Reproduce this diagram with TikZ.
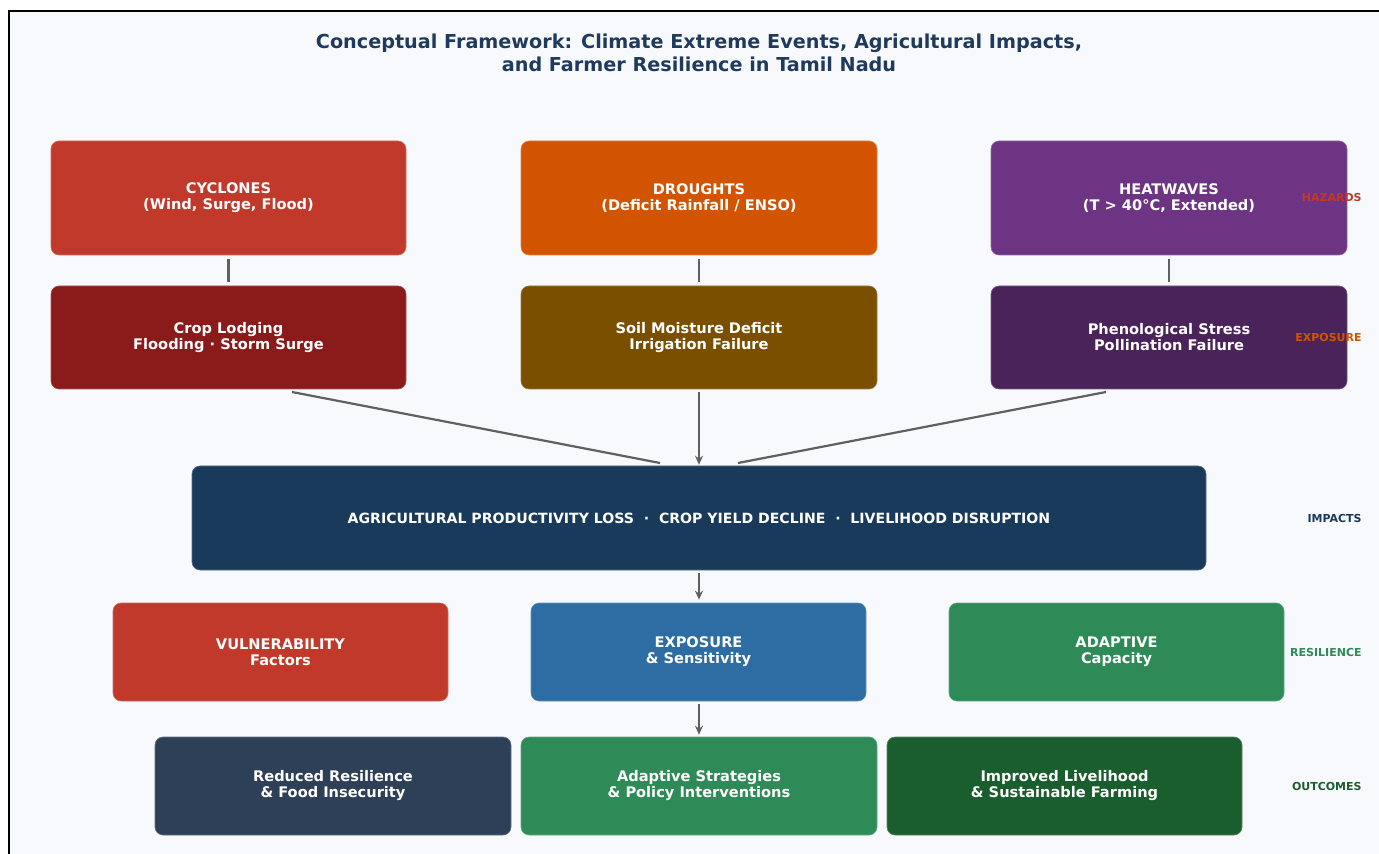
\documentclass[tikz,border=0pt]{standalone}
\usepackage{fontspec}
\setmainfont{DejaVu Sans}
\usetikzlibrary{arrows.meta}
\definecolor{bgc}{HTML}{F7F9FD}
\definecolor{cCyc}{HTML}{C0392B}
\definecolor{cDro}{HTML}{D35400}
\definecolor{cHeat}{HTML}{6C3483}
\definecolor{cCycB}{HTML}{8B1A1A}
\definecolor{cDroB}{HTML}{7B4F00}
\definecolor{cHeatB}{HTML}{4A235A}
\definecolor{cImp}{HTML}{1A3A5C}
\definecolor{cExp}{HTML}{2E6DA4}
\definecolor{cAda}{HTML}{2E8B57}
\definecolor{cRed}{HTML}{2E4057}
\definecolor{cImpr}{HTML}{1B5E2E}
\definecolor{cLine}{HTML}{606060}
\definecolor{cTitle}{HTML}{1F3A5C}
\tikzset{
  box/.style={rounded corners=4pt, align=center, text=white, inner sep=0pt,
    font=\fontsize{7.3}{8}\selectfont\bfseries, draw=white!25!#1, line width=0.3pt, fill=#1},
  sidelab/.style={anchor=east, font=\fontsize{5.5}{6}\selectfont\bfseries, text=#1, inner sep=0pt},
  conn/.style={draw=cLine, line width=1.1pt},
  arr/.style={conn, -{Stealth[length=4.5pt,width=4pt]}},
}
\begin{document}
\begin{tikzpicture}[x=0.5pt,y=-0.5pt]
\useasboundingbox (0,0) rectangle (1379,854);
\fill[white] (0,0) rectangle (1379,854);
\fill[bgc] (9,11) rectangle (1379,854);
\draw[black, line width=0.9pt] (9,854) -- (9,11) -- (1379,11);
% title
\node[align=center, text=cTitle, font=\fontsize{9.6}{11.5}\selectfont\bfseries, inner sep=0pt] (title) at (699,52.5)
  {Conceptual Framework: Climate Extreme Events, Agricultural Impacts,\\and Farmer Resilience in Tamil Nadu};
% hazards
\node[box=cCyc, minimum width=177.5pt, minimum height=57pt] (cyc) at (228.5,198) {CYCLONES\\(Wind, Surge, Flood)};
\node[box=cDro, minimum width=178pt, minimum height=57pt] (dro) at (699,198) {DROUGHTS\\(Deficit Rainfall / ENSO)};
\node[box=cHeat, minimum width=178pt, minimum height=57pt] (heat) at (1169,198) {HEATWAVES\\(T > 40°C, Extended)};
% exposure
\node[box=cCycB, minimum width=177.5pt, minimum height=51.5pt] (cycb) at (228.5,337.5) {Crop Lodging\\Flooding · Storm Surge};
\node[box=cDroB, minimum width=178pt, minimum height=51.5pt] (drob) at (699,337.5) {Soil Moisture Deficit\\Irrigation Failure};
\node[box=cHeatB, minimum width=178pt, minimum height=51.5pt] (heatb) at (1169,337.5) {Phenological Stress\\Pollination Failure};
% impacts
\node[box=cImp, minimum width=507pt, minimum height=52pt, font=\fontsize{7.05}{8}\selectfont\bfseries] (imp) at (699,518)
  {AGRICULTURAL PRODUCTIVITY LOSS\ \ ·\ \ CROP YIELD DECLINE\ \ ·\ \ LIVELIHOOD DISRUPTION};
% resilience
\node[box=cCyc, minimum width=167.5pt, minimum height=49pt] (vul) at (280.5,652) {VULNERABILITY\\Factors};
\node[box=cExp, minimum width=167.5pt, minimum height=49pt] (exps) at (698.5,652) {EXPOSURE\\\& Sensitivity};
\node[box=cAda, minimum width=167.5pt, minimum height=49pt] (ada) at (1116.5,652) {ADAPTIVE\\Capacity};
% outcomes
\node[box=cRed, minimum width=178pt, minimum height=49pt] (red) at (333,786) {Reduced Resilience\\\& Food Insecurity};
\node[box=cAda, minimum width=178pt, minimum height=49pt] (adst) at (699,786) {Adaptive Strategies\\\& Policy Interventions};
\node[box=cImpr, minimum width=177.5pt, minimum height=49pt] (impr) at (1064.5,786) {Improved Livelihood\\\& Sustainable Farming};
% side labels
\node[sidelab=cCyc] (lhaz) at (1362,198) {HAZARDS};
\node[sidelab=cDro] (lexp) at (1362,337.5) {EXPOSURE};
\node[sidelab=cImp] (limp) at (1362,518) {IMPACTS};
\node[sidelab=cAda] (lres) at (1362,652) {RESILIENCE};
\node[sidelab=cImpr] (lout) at (1362,786) {OUTCOMES};
% connectors
\draw[conn, shorten <=2pt, shorten >=2pt] (cyc) -- (cycb);
\draw[conn, shorten <=2pt, shorten >=2pt] (dro) -- (drob);
\draw[conn, shorten <=2pt, shorten >=2pt] (heat) -- (heatb);
\coordinate (la) at (292,392);
\coordinate (lb) at (660,463);
\coordinate (ra) at (1106,392);
\coordinate (rb) at (738,463);
\draw[conn] (la) -- (lb);
\draw[conn] (ra) -- (rb);
\draw[arr, shorten <=1.5pt, shorten >=0.5pt] (drob) -- (imp);
\draw[arr, shorten <=1.5pt, shorten >=1.5pt] (imp) -- (imp.south |- exps.north);
\draw[arr, shorten <=1.5pt, shorten >=1pt] (exps.south -| adst.north) -- (adst);
\end{tikzpicture}
\end{document}
